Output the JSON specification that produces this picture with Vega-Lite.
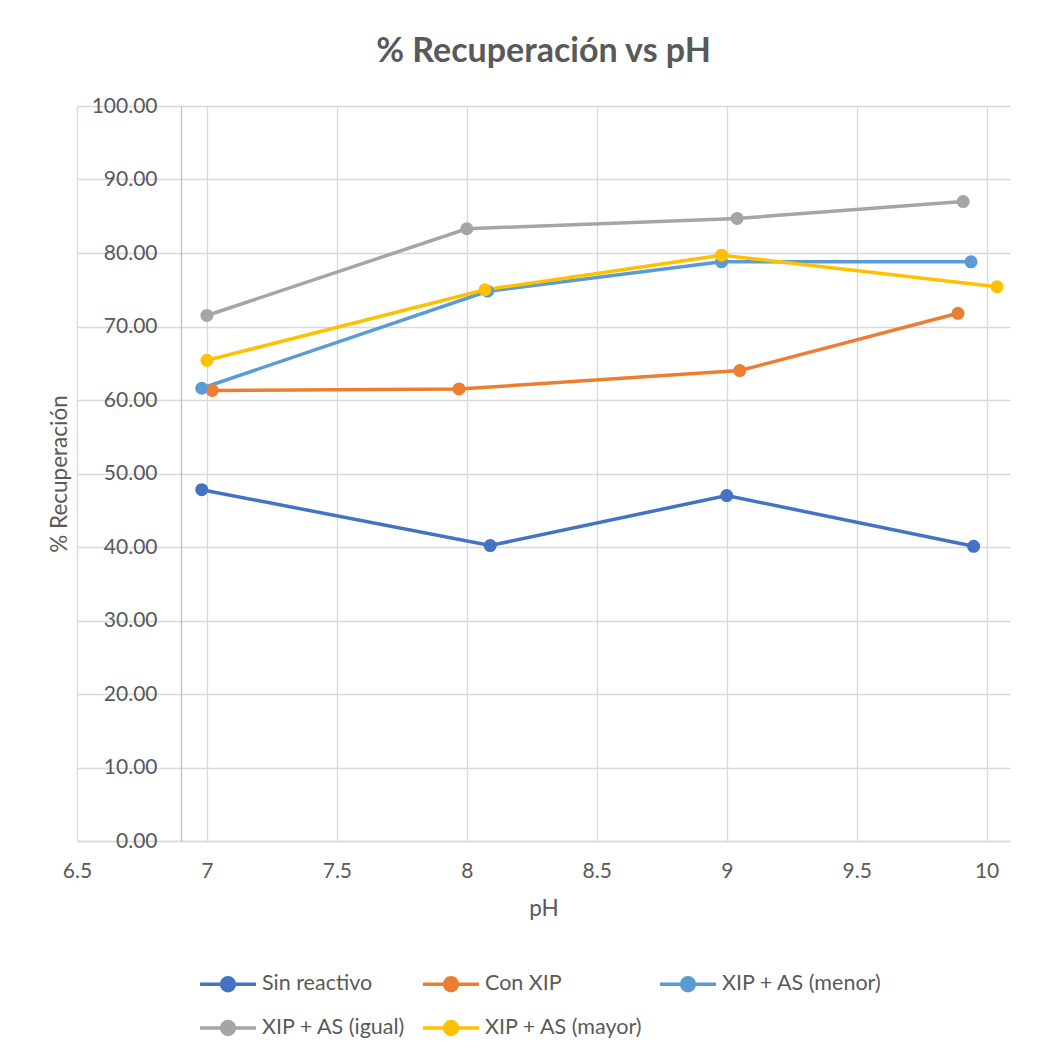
{
  "$schema": "https://vega.github.io/schema/vega-lite/v6.json",
  "autosize": {"type": "none"},
  "width": 933,
  "height": 735,
  "padding": {"left": 77, "top": 106, "right": 39, "bottom": 216},
  "background": "white",
  "title": {
    "text": "% Recuperación vs pH",
    "font": "Lato",
    "fontSize": 34,
    "fontWeight": "bold",
    "color": "#595959",
    "anchor": "middle",
    "offset": 26
  },
  "config": {
    "view": {"stroke": null},
    "font": "Lato",
    "axis": {
      "labelFont": "Lato",
      "labelFontSize": 21,
      "labelColor": "#595959",
      "titleFont": "Lato",
      "titleFontSize": 22.5,
      "titleFontWeight": "normal",
      "titleColor": "#595959",
      "gridColor": "#D9D9D9",
      "gridWidth": 1.3,
      "ticks": false
    }
  },
  "data": {
    "values": [
      {"pH": 6.98, "rec": 47.8, "serie": "Sin reactivo"},
      {"pH": 8.09, "rec": 40.2, "serie": "Sin reactivo"},
      {"pH": 9.0, "rec": 47.0, "serie": "Sin reactivo"},
      {"pH": 9.95, "rec": 40.1, "serie": "Sin reactivo"},
      {"pH": 7.02, "rec": 61.3, "serie": "Con XIP"},
      {"pH": 7.97, "rec": 61.5, "serie": "Con XIP"},
      {"pH": 9.05, "rec": 64.0, "serie": "Con XIP"},
      {"pH": 9.89, "rec": 71.8, "serie": "Con XIP"},
      {"pH": 6.98, "rec": 61.6, "serie": "XIP + AS (menor)"},
      {"pH": 8.08, "rec": 74.8, "serie": "XIP + AS (menor)"},
      {"pH": 8.98, "rec": 78.8, "serie": "XIP + AS (menor)"},
      {"pH": 9.94, "rec": 78.8, "serie": "XIP + AS (menor)"},
      {"pH": 7.0, "rec": 71.5, "serie": "XIP + AS (igual)"},
      {"pH": 8.0, "rec": 83.3, "serie": "XIP + AS (igual)"},
      {"pH": 9.04, "rec": 84.7, "serie": "XIP + AS (igual)"},
      {"pH": 9.91, "rec": 87.0, "serie": "XIP + AS (igual)"},
      {"pH": 7.0, "rec": 65.4, "serie": "XIP + AS (mayor)"},
      {"pH": 8.07, "rec": 75.0, "serie": "XIP + AS (mayor)"},
      {"pH": 8.98, "rec": 79.7, "serie": "XIP + AS (mayor)"},
      {"pH": 10.04, "rec": 75.4, "serie": "XIP + AS (mayor)"}
    ]
  },
  "encoding": {
    "x": {
      "field": "pH",
      "type": "quantitative",
      "scale": {"domain": [6.5, 10.09], "nice": false, "zero": false},
      "axis": {
        "title": "pH",
        "values": [6.5, 7, 7.5, 8, 8.5, 9, 9.5, 10],
        "format": "~g",
        "labelFlush": false,
        "labelPadding": 19,
        "titlePadding": 16,
        "domainColor": "#D9D9D9",
        "domainWidth": 1.3
      }
    },
    "y": {
      "field": "rec",
      "type": "quantitative",
      "scale": {"domain": [0, 100], "nice": false},
      "axis": {
        "title": "% Recuperación",
        "values": [0, 10, 20, 30, 40, 50, 60, 70, 80, 90, 100],
        "format": ".2f",
        "offset": -104,
        "labelPadding": 24,
        "titlePadding": 20,
        "domainColor": "#BFBFBF",
        "domainWidth": 1.3
      }
    },
    "color": {
      "field": "serie",
      "type": "nominal",
      "scale": {
        "domain": ["Sin reactivo", "Con XIP", "XIP + AS (menor)", "XIP + AS (igual)", "XIP + AS (mayor)"],
        "range": ["#4472C4", "#ED7D31", "#5B9BD5", "#A5A5A5", "#FFC000"]
      },
      "legend": {
        "title": null,
        "orient": "none",
        "legendX": 121,
        "legendY": 848,
        "direction": "horizontal",
        "columns": 3,
        "columnPadding": 10,
        "rowPadding": -11,
        "labelFont": "Lato",
        "labelFontSize": 21.5,
        "labelLimit": 400,
        "labelColor": "#595959",
        "labelOffset": 4,
        "symbolType": "M-1,0L1,0M0.23,0A0.23,0.23,0,1,1,-0.23,0A0.23,0.23,0,1,1,0.23,0Z",
        "symbolSize": 3136,
        "symbolStrokeWidth": 3.5,
        "encode": {
          "symbols": {
            "update": {
              "fill": {"scale": "color", "field": "value"},
              "stroke": {"scale": "color", "field": "value"},
              "opacity": {"value": 1}
            }
          }
        }
      }
    }
  },
  "layer": [
    {
      "mark": {"type": "line", "strokeWidth": 3.5}
    },
    {
      "mark": {"type": "point", "filled": true, "size": 170, "opacity": 1}
    }
  ]
}
